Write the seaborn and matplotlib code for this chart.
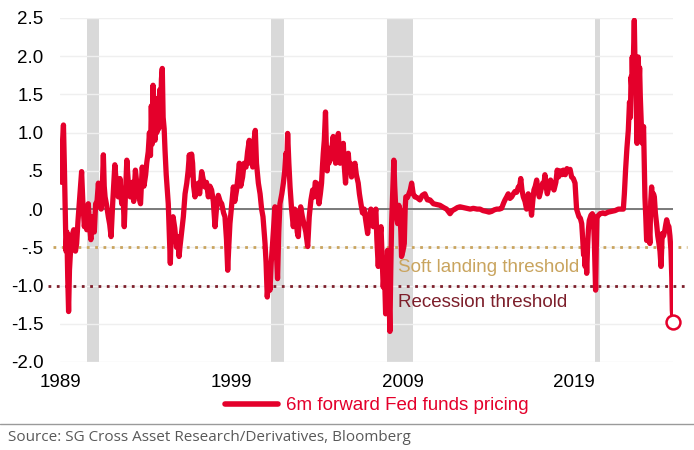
import numpy as np
import pandas as pd
import matplotlib
matplotlib.use("Agg")
import matplotlib.pyplot as plt
import seaborn as sns

# 6m forward Fed funds pricing
years = [
    1989.0, 1989.05, 1989.1, 1989.15, 1989.2, 1989.25, 1989.3, 1989.35, 1989.4, 1989.45,
    1989.5, 1989.55, 1989.6, 1989.7, 1989.8, 1989.9, 1989.97, 1990.05, 1990.1, 1990.2,
    1990.26, 1990.33, 1990.42, 1990.5, 1990.56, 1990.65, 1990.72, 1990.8, 1990.88, 1990.95,
    1991.0, 1991.08, 1991.16, 1991.24, 1991.3, 1991.4, 1991.47, 1991.53, 1991.58, 1991.63,
    1991.72, 1991.82, 1991.9, 1991.98, 1992.08, 1992.2, 1992.3, 1992.4, 1992.5, 1992.6,
    1992.68, 1992.75, 1992.82, 1992.9, 1993.0, 1993.1, 1993.2, 1993.3, 1993.4, 1993.5,
    1993.6, 1993.7, 1993.8, 1993.9, 1994.0, 1994.06, 1994.15, 1994.22, 1994.28, 1994.33,
    1994.38, 1994.43, 1994.48, 1994.55, 1994.6, 1994.65, 1994.7, 1994.76, 1994.82, 1994.87,
    1994.92, 1994.97, 1995.02, 1995.08, 1995.13, 1995.2, 1995.28, 1995.32, 1995.38, 1995.44,
    1995.5, 1995.56, 1995.6, 1995.7, 1995.8, 1995.88, 1995.95, 1996.0, 1996.1, 1996.2,
    1996.3, 1996.4, 1996.48, 1996.55, 1996.62, 1996.68, 1996.74, 1996.8, 1996.88, 1996.95,
    1997.07, 1997.15, 1997.27, 1997.35, 1997.46, 1997.55, 1997.66, 1997.75, 1997.85, 1997.95,
    1998.05, 1998.15, 1998.24, 1998.35, 1998.44, 1998.55, 1998.63, 1998.72, 1998.79, 1998.85,
    1998.92, 1999.0, 1999.12, 1999.2, 1999.31, 1999.4, 1999.47, 1999.55, 1999.66, 1999.75,
    1999.86, 1999.95, 2000.05, 2000.12, 2000.2, 2000.25, 2000.33, 2000.4, 2000.47, 2000.58,
    2000.68, 2000.77, 2000.85, 2000.97, 2001.03, 2001.1, 2001.18, 2001.26, 2001.33, 2001.41,
    2001.48, 2001.55, 2001.62, 2001.7, 2001.77, 2001.84, 2001.95, 2002.04, 2002.12, 2002.19,
    2002.24, 2002.29, 2002.36, 2002.43, 2002.52, 2002.62, 2002.7, 2002.78, 2002.85, 2002.91,
    2002.98, 2003.05, 2003.15, 2003.24, 2003.35, 2003.46, 2003.55, 2003.65, 2003.75, 2003.84,
    2003.9, 2003.98, 2004.05, 2004.12, 2004.2, 2004.27, 2004.32, 2004.37, 2004.43, 2004.5,
    2004.55, 2004.6, 2004.65, 2004.7, 2004.76, 2004.82, 2004.9, 2004.95, 2005.0, 2005.05,
    2005.09, 2005.15, 2005.2, 2005.25, 2005.3, 2005.35, 2005.4, 2005.45, 2005.5, 2005.54,
    2005.6, 2005.67, 2005.72, 2005.78, 2005.83, 2005.9, 2005.95, 2006.02, 2006.1, 2006.15,
    2006.22, 2006.3, 2006.41, 2006.48, 2006.57, 2006.66, 2006.76, 2006.85, 2006.96, 2007.05,
    2007.15, 2007.22, 2007.29, 2007.36, 2007.44, 2007.5, 2007.58, 2007.66, 2007.74, 2007.8,
    2007.87, 2007.94, 2008.01, 2008.07, 2008.12, 2008.18, 2008.26, 2008.31, 2008.36, 2008.42,
    2008.49, 2008.54, 2008.59, 2008.65, 2008.71, 2008.78, 2008.84, 2008.9, 2008.94, 2009.02,
    2009.1, 2009.15, 2009.19, 2009.28, 2009.37, 2009.45, 2009.53, 2009.62, 2009.72, 2009.85,
    2010.01, 2010.15, 2010.3, 2010.45, 2010.6, 2010.8, 2011.0, 2011.18, 2011.4, 2011.57,
    2011.77, 2011.9, 2012.06, 2012.2, 2012.35, 2012.55, 2012.74, 2012.95, 2013.13, 2013.35,
    2013.52, 2013.7, 2013.9, 2014.05, 2014.2, 2014.35, 2014.5, 2014.65, 2014.78, 2014.9,
    2014.98, 2015.08, 2015.17, 2015.27, 2015.37, 2015.47, 2015.56, 2015.66, 2015.76, 2015.84,
    2015.9, 2015.97, 2016.05, 2016.15, 2016.24, 2016.29, 2016.34, 2016.44, 2016.53, 2016.6,
    2016.67, 2016.75, 2016.83, 2016.9, 2016.98, 2017.08, 2017.18, 2017.25, 2017.31, 2017.38,
    2017.45, 2017.55, 2017.64, 2017.74, 2017.84, 2017.95, 2018.03, 2018.1, 2018.2, 2018.3,
    2018.39, 2018.5, 2018.6, 2018.68, 2018.78, 2018.87, 2018.97, 2019.07, 2019.12, 2019.16,
    2019.23, 2019.3, 2019.38, 2019.46, 2019.52, 2019.57, 2019.61, 2019.66, 2019.7, 2019.75,
    2019.8, 2019.85, 2019.9, 2019.94, 2020.0, 2020.08, 2020.14, 2020.2, 2020.27, 2020.31,
    2020.35, 2020.45, 2020.53, 2020.7, 2020.82, 2021.0, 2021.2, 2021.4, 2021.6, 2021.75,
    2021.89, 2021.95, 2022.02, 2022.1, 2022.18, 2022.25, 2022.3, 2022.34, 2022.38, 2022.41,
    2022.45, 2022.48, 2022.53, 2022.57, 2022.61, 2022.65, 2022.69, 2022.72, 2022.76, 2022.8,
    2022.84, 2022.88, 2022.94, 2023.0, 2023.04, 2023.07, 2023.11, 2023.15, 2023.2, 2023.25,
    2023.3, 2023.35, 2023.4, 2023.44, 2023.49, 2023.54, 2023.6, 2023.65, 2023.7, 2023.76,
    2023.83, 2023.9, 2023.97, 2024.03, 2024.09, 2024.13, 2024.16, 2024.24, 2024.32, 2024.37,
    2024.42, 2024.48, 2024.55, 2024.61, 2024.67, 2024.72, 2024.75, 2024.8,
]
pricing = [
    0.4, 0.75, 0.35, 0.9, 1.10, 0.6, 0.0, -0.55, -0.3, -0.9,
    -1.34, -0.8, -0.6, -0.35, -0.27, -0.55, -0.45, -0.15, 0.0, 0.3,
    0.49, 0.1, -0.23, -0.05, -0.27, 0.07, -0.2, -0.4, -0.1, -0.19,
    -0.3, 0.07, 0.1, 0.34, 0.1, 0.0, 0.3, 0.71, 0.3, 0.16,
    0.05, -0.1, -0.2, -0.36, 0.1, 0.58, 0.3, 0.16, 0.4, 0.07,
    0.2, -0.23, 0.2, 0.64, 0.3, 0.16, 0.35, 0.1, 0.51, 0.3,
    0.16, 0.07, 0.55, 0.3, 0.45, 0.6, 0.75, 1.0, 0.7, 1.35,
    0.85, 1.62, 1.0, 0.9, 1.35, 1.0, 1.45, 1.05, 1.56, 1.1,
    1.7, 1.84, 1.2, 1.05, 0.77, 0.45, 0.2, 0.07, -0.3, -0.71,
    -0.2, -0.35, -0.1, -0.25, -0.5, -0.36, -0.62, -0.5, -0.3, -0.1,
    0.2, 0.34, 0.5, 0.71, 0.45, 0.72, 0.6, 0.3, 0.16, 0.25,
    0.34, 0.2, 0.49, 0.4, 0.29, 0.35, 0.16, 0.3, 0.25, 0.1,
    -0.23, 0.05, 0.18, 0.1, 0.07, -0.05, -0.1, -0.4, -0.8, -0.5,
    -0.19, 0.0, 0.29, 0.1, 0.25, 0.45, 0.6, 0.3, 0.42, 0.6,
    0.55, 0.75, 0.9, 0.6, 0.7, 0.55, 0.9, 1.03, 0.6, 0.34,
    0.2, 0.0, -0.1, -0.45, -0.7, -1.15, -0.9, -1.06, -0.7, -0.45,
    -0.2, 0.03, -0.5, -0.91, -0.3, 0.07, 0.2, 0.34, 0.5, 0.73,
    0.6, 0.99, 0.6, 0.29, 0.0, -0.23, 0.0, -0.1, -0.3, -0.36,
    -0.1, 0.03, -0.1, -0.19, -0.3, -0.49, -0.1, 0.12, 0.25, 0.16,
    0.35, 0.34, 0.2, 0.07, 0.2, 0.34, 0.55, 0.73, 0.9, 1.27,
    0.8, 0.5, 0.8, 0.6, 0.77, 0.65, 0.85, 0.95, 0.7, 0.8,
    0.6, 0.75, 0.85, 0.99, 0.75, 0.6, 0.64, 0.8, 0.7, 0.86,
    0.55, 0.34, 0.55, 0.6, 0.73, 0.5, 0.6, 0.42, 0.5, 0.55,
    0.6, 0.45, 0.34, 0.2, 0.07, -0.05, 0.0, -0.15, -0.32, -0.1,
    0.0, -0.05, -0.23, -0.1, 0.0, -0.4, -0.75, -0.4, -0.23, -0.6,
    -1.02, -0.8, -1.37, -0.9, -0.54, -0.9, -1.6, -0.8, -0.19, 0.2,
    0.64, 0.3, 0.07, -0.1, -0.19, 0.05, 0.0, -0.3, -0.62, -0.55,
    -0.45, 0.0, 0.16, 0.15, 0.2, 0.25, 0.34, 0.2, 0.16, 0.15,
    0.12, 0.18, 0.2, 0.12, 0.12, 0.07, 0.06, 0.05, 0.02, 0.0,
    -0.06, -0.02, 0.0, 0.02, 0.03, 0.02, 0.01, 0.0, 0.01, 0.0,
    0.0, -0.02, -0.03, -0.04, -0.03, -0.01, 0.0, 0.0, 0.01, 0.08,
    0.12, 0.16, 0.2, 0.14, 0.16, 0.2, 0.23, 0.22, 0.29, 0.3,
    0.4, 0.25, 0.16, 0.1, 0.0, 0.1, 0.2, 0.1, -0.08, 0.1,
    0.25, 0.3, 0.38, 0.25, 0.16, 0.25, 0.34, 0.3, 0.45, 0.3,
    0.2, 0.3, 0.38, 0.3, 0.25, 0.35, 0.51, 0.42, 0.5, 0.45,
    0.51, 0.45, 0.53, 0.5, 0.52, 0.42, 0.4, 0.34, 0.15, 0.0,
    -0.05, -0.1, -0.12, -0.19, -0.4, -0.6, -0.54, -0.75, -0.5, -0.84,
    -0.5, -0.27, -0.15, -0.12, -0.08, -0.06, -0.1, -0.45, -1.06, -0.5,
    -0.1, -0.08, -0.06, -0.05, -0.06, -0.04, -0.03, -0.02, 0.0, 0.0,
    0.0, 0.2, 0.51, 0.8, 1.03, 1.4, 1.2, 1.73, 1.6, 1.99,
    1.6, 2.0, 2.47, 1.9, 1.73, 1.3, 0.86, 1.5, 1.99, 1.6,
    1.85, 1.47, 1.1, 0.86, 1.0, 1.08, 0.6, 0.16, -0.1, -0.41,
    -0.2, 0.0, -0.3, -0.45, 0.1, 0.29, 0.1, 0.2, 0.16, -0.05,
    -0.19, -0.35, -0.45, -0.55, -0.75, -0.5, -0.32, -0.35, -0.27, -0.2,
    -0.14, -0.2, -0.23, -0.35, -0.54, -0.9, -1.32, -1.48,
]

recession_start = [1990.55, 2001.3, 2008.07, 2020.25]
recession_end = [1991.3, 2002.05, 2009.6, 2020.5]

soft_landing = -0.5
recession_level = -1.0

yticks = [2.5, 2.0, 1.5, 1.0, 0.5, 0.0, -0.5, -1.0, -1.5, -2.0]
ytick_labels = ["2.5", "2.0", "1.5", "1.0", ".5", ".0", "-.5", "-1.0", "-1.5", "-2.0"]
xticks = [1989, 1999, 2009, 2019]

assert len(years) == len(pricing)
df = pd.DataFrame({"year": years, "pricing": pricing})

red = "#E4002B"
gold = "#C9A45E"
darkred = "#7D1F2B"

sns.set_style("white")
plt.rcParams["font.family"] = ["Liberation Sans", "DejaVu Sans"]

fig = plt.figure(figsize=(6.94, 4.5), dpi=100)
ax = fig.add_axes([0.0865, 0.1956, 0.8835, 0.7644])

for s, e in zip(recession_start, recession_end):
    ax.axvspan(s, e, color="#D9D9D9", lw=0, zorder=0)

for t in yticks:
    ax.axhline(t, color="#EFEFEF", lw=1, zorder=0.5)
ax.axhline(0, color="#707070", lw=1.3, zorder=1)

ax.axhline(soft_landing, xmin=-0.012, xmax=1.022, color=gold, lw=2,
           ls=(0, (1, 2)), clip_on=False, zorder=1.5)
ax.axhline(recession_level, xmin=-0.02, xmax=1.022, color=darkred, lw=2,
           ls=(0, (1, 2)), clip_on=False, zorder=1.5)

sns.lineplot(data=df, x="year", y="pricing", ax=ax, color=red, lw=3.8,
             sort=False, label="6m forward Fed funds pricing", zorder=3,
             solid_joinstyle="round", solid_capstyle="round")

ax.plot(df["year"].iloc[-1], df["pricing"].iloc[-1], "o", ms=10, mfc="white",
        mec=red, mew=1.8, zorder=4, clip_on=False)

ax.text(2008.73, -0.76, "Soft landing threshold", color=gold, fontsize=13.5,
        va="center", ha="left", zorder=2)
ax.text(2008.73, -1.22, "Recession threshold", color=darkred, fontsize=13.5,
        va="center", ha="left", zorder=2)

ax.set_xlim(1989.0, 2024.8)
ax.set_ylim(-2.0, 2.5)
ax.set_yticks(yticks)
ax.set_yticklabels(ytick_labels)
ax.set_xticks(xticks)
ax.set_xticklabels([str(x) for x in xticks])
ax.tick_params(axis="both", length=0, labelsize=13.5, colors="black")
ax.tick_params(axis="y", pad=12)
ax.tick_params(axis="x", pad=9)
ax.set_xlabel("")
ax.set_ylabel("")
for sp in ax.spines.values():
    sp.set_visible(False)

leg = ax.legend(loc="center", bbox_to_anchor=(0.543, 0.098),
                bbox_transform=fig.transFigure, frameon=False, fontsize=13.5,
                handlelength=2.8, handletextpad=0.45, borderaxespad=0)
for txt in leg.get_texts():
    txt.set_color(red)
for ln in leg.get_lines():
    ln.set_linewidth(4)

fig.add_artist(plt.Line2D([0, 1], [0.058, 0.058], color="#9A9A9A", lw=1,
                          transform=fig.transFigure))
fig.text(0.012, 0.027, "Source: SG Cross Asset Research/Derivatives, Bloomberg",
         color="#595959", fontsize=11, family=["Open Sans", "DejaVu Sans"],
         va="center", ha="left")

fig.savefig("out.png", dpi=100)
